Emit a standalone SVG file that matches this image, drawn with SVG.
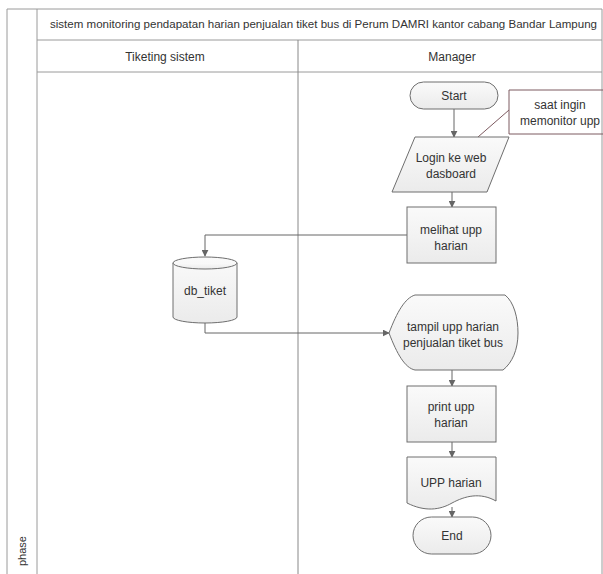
<svg xmlns="http://www.w3.org/2000/svg" width="603" height="574" viewBox="0 0 603 574">
  <defs>
    <linearGradient id="nodeFill" x1="0" y1="0" x2="0" y2="1">
      <stop offset="0" stop-color="#fafafa"/>
      <stop offset="1" stop-color="#ebebeb"/>
    </linearGradient>
    <marker id="arrow" viewBox="0 0 10 10" refX="9" refY="5" markerWidth="7" markerHeight="7" orient="auto" markerUnits="userSpaceOnUse">
      <path d="M0,0 L10,5 L0,10 Z" fill="#666"/>
    </marker>
    <style>
      .frame { fill: none; stroke: #9a9a9a; stroke-width: 1; }
      .lane { fill: none; stroke: #888; stroke-width: 1; }
      .node { fill: url(#nodeFill); stroke: #6e6e6e; stroke-width: 1; }
      .edge { fill: none; stroke: #666; stroke-width: 1; }
      .note { fill: none; stroke: #7d5a60; stroke-width: 1; }
      text { font-family: "Liberation Sans", Arial, sans-serif; fill: #333; }
      .lbl { font-size: 12px; text-anchor: middle; }
      .hdr { font-size: 12px; text-anchor: middle; }
      .title { font-size: 10px; }
    </style>
  </defs>

  <rect width="603" height="574" fill="#ffffff"/>

  <!-- pool frame, title row, lane header row -->
  <g id="pool">
    <line class="frame" x1="7" y1="9" x2="602" y2="9"/>
    <line class="frame" x1="7" y1="9" x2="7" y2="574"/>
    <line class="frame" x1="37" y1="9" x2="37" y2="574"/>
    <line class="frame" x1="602" y1="9" x2="602" y2="574"/>
    <line class="frame" x1="37" y1="40" x2="602" y2="40"/>
    <line class="frame" x1="37" y1="72" x2="602" y2="72"/>
    <line class="lane" x1="298" y1="40" x2="298" y2="574"/>
    <text class="title" x="50" y="28" textLength="547" lengthAdjust="spacingAndGlyphs">sistem monitoring pendapatan harian penjualan tiket bus di Perum DAMRI kantor cabang Bandar Lampung</text>
    <text class="hdr" x="165" y="61">Tiketing sistem</text>
    <text class="hdr" x="452" y="61">Manager</text>
    <text x="26" y="551" font-size="11" text-anchor="middle" transform="rotate(-90 26 551)">phase</text>
  </g>

  <!-- connectors -->
  <g id="connectors">
    <line class="edge" x1="454" y1="109" x2="454" y2="137" marker-end="url(#arrow)"/>
    <line class="edge" x1="452" y1="192" x2="452" y2="207" marker-end="url(#arrow)"/>
    <polyline class="edge" points="407,235 205,235 205,256" marker-end="url(#arrow)"/>
    <polyline class="edge" points="205,323 205,333 389,333" marker-end="url(#arrow)"/>
    <line class="edge" x1="452" y1="370" x2="452" y2="386" marker-end="url(#arrow)"/>
    <line class="edge" x1="452" y1="442" x2="452" y2="457" marker-end="url(#arrow)"/>
    <line class="edge" x1="452" y1="507" x2="452" y2="517" marker-end="url(#arrow)"/>
  </g>

  <g id="start">
    <rect class="node" x="410" y="82" width="88" height="27" rx="13.5"/>
    <text class="lbl" x="454" y="100">Start</text>
  </g>

  <g id="note">
    <polyline class="note" points="603,90 509,90 509,134 603,134"/>
    <line class="note" x1="509" y1="110" x2="478" y2="137"/>
    <text class="lbl" x="560" y="109">saat ingin</text>
    <text class="lbl" x="560" y="125">memonitor upp</text>
  </g>

  <g id="login">
    <polygon class="node" points="415,137 509,137 487,192 392,192"/>
    <text class="lbl" x="451" y="162">Login ke web</text>
    <text class="lbl" x="451" y="178">dasboard</text>
  </g>

  <g id="melihat">
    <rect class="node" x="407" y="207" width="89" height="56"/>
    <text class="lbl" x="451" y="234">melihat upp</text>
    <text class="lbl" x="451" y="250">harian</text>
  </g>

  <g id="db_tiket">
    <path class="node" d="M173,263 A32,6 0 0 1 237,263 L237,317 A32,6 0 0 1 173,317 Z"/>
    <path class="node" d="M173,263 A32,6 0 0 0 237,263"/>
    <text class="lbl" x="205" y="295">db_tiket</text>
  </g>

  <g id="tampil">
    <path class="node" d="M389,333 C397,312 405,298 415,295 L505,295 C514,302 518,318 518,333 C518,350 512,363 503,370 L415,370 C405,368 397,354 389,333 Z"/>
    <text class="lbl" x="453" y="331">tampil upp harian</text>
    <text class="lbl" x="453" y="347">penjualan tiket bus</text>
  </g>

  <g id="print">
    <rect class="node" x="407" y="386" width="89" height="56"/>
    <text class="lbl" x="451" y="411">print upp</text>
    <text class="lbl" x="451" y="427">harian</text>
  </g>

  <g id="upp">
    <path class="node" d="M407,457 L496,457 L496,501 C480,492 465,496 452,503 C440,510 425,512 407,503 Z"/>
    <text class="lbl" x="451" y="487">UPP harian</text>
  </g>

  <g id="end">
    <rect class="node" x="413" y="517" width="78" height="37" rx="18.5"/>
    <text class="lbl" x="452" y="540">End</text>
  </g>
</svg>
